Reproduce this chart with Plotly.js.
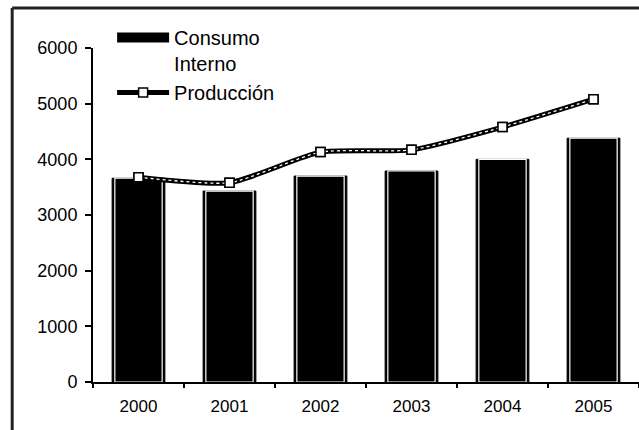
<!DOCTYPE html>
<html>
<head>
<meta charset="utf-8">
<script src="https://cdn.plot.ly/plotly-3.0.1.min.js"></script>
<style>html,body{margin:0;padding:0;background:#fff;overflow:hidden;}#chart{width:639px;height:430px;overflow:hidden;}</style>
</head>
<body>
<div id="chart"></div>
<script>
const years = ["2000", "2001", "2002", "2003", "2004", "2005"];
const consumoInterno = [3660, 3430, 3700, 3790, 4000, 4380];
const produccion = [3680, 3580, 4130, 4170, 4580, 5080];
const yTicks = [0, 1000, 2000, 3000, 4000, 5000, 6000];

const font = "Liberation Sans, Arial, sans-serif";

const traces = [
  {
    type: "bar", x: years, y: consumoInterno, name: "Consumo<br>Interno",
    width: 0.58, showlegend: false, hoverinfo: "skip",
    marker: {color: "#000", line: {color: "#000", width: 1}}
  },
  {
    type: "bar", x: years, y: consumoInterno, name: "Consumo<br>Interno",
    width: 0.52, showlegend: false,
    marker: {color: "#000", line: {color: "#fff", width: 1.2}}
  },
  {
    type: "scatter", mode: "lines", x: [null], y: [null], name: "Consumo<br>Interno",
    line: {color: "#000", width: 10}
  },
  {
    type: "scatter", mode: "lines+markers", x: years, y: produccion, name: "Producción",
    line: {color: "#000", width: 5, shape: "spline", smoothing: 0.6},
    marker: {symbol: "square", size: 9, color: "#fff", line: {color: "#000", width: 1.5}}
  },
  {
    type: "scatter", mode: "lines", x: years, y: produccion, showlegend: false, hoverinfo: "skip",
    line: {color: "#fff", width: 1.3, dash: "dot", shape: "spline", smoothing: 0.6}
  },
  {
    type: "scatter", mode: "markers", x: years, y: produccion, showlegend: false, hoverinfo: "skip",
    marker: {symbol: "square", size: 9, color: "#fff", line: {color: "#000", width: 1.5}}
  }
];

const layout = {
  width: 639, height: 430,
  margin: {l: 93, r: 0, t: 48, b: 48},
  paper_bgcolor: "#fff", plot_bgcolor: "#fff",
  barmode: "overlay",
  showlegend: true,
  legend: {
    x: 0.035, y: 1.09, xanchor: "left", yanchor: "top",
    font: {family: font, size: 20, color: "#000"},
    bgcolor: "rgba(0,0,0,0)", itemwidth: 52, valign: "top",
    traceorder: "normal"
  },
  xaxis: {
    type: "category", range: [-0.5, 5.5],
    showline: true, linecolor: "#000", linewidth: 2,
    ticks: "outside", ticklen: 4, tickcolor: "#000", tickwidth: 2, tickson: "boundaries",
    tickfont: {family: font, size: 17, color: "#000"}, ticklabelstandoff: 8,
    showgrid: false, zeroline: false, fixedrange: true
  },
  yaxis: {
    range: [0, 6000], tickvals: yTicks, ticktext: yTicks.map(String),
    showline: true, linecolor: "#000", linewidth: 2,
    ticks: "outside", ticklen: 6, tickcolor: "#000", tickwidth: 2,
    tickfont: {family: font, size: 18, color: "#000"}, ticklabelstandoff: 4,
    showgrid: false, zeroline: false, fixedrange: true
  },
  shapes: [
    {type: "line", xref: "paper", yref: "paper", x0: -0.148, x1: 1.2, y0: 1.12, y1: 1.12,
     line: {color: "#222", width: 3}, layer: "above"},
    {type: "line", xref: "paper", yref: "paper", x0: -0.148, x1: -0.148, y0: -0.2, y1: 1.12,
     line: {color: "#222", width: 3}, layer: "above"}
  ]
};

Plotly.newPlot("chart", traces, layout, {displayModeBar: false, staticPlot: true});
</script>
</body>
</html>
